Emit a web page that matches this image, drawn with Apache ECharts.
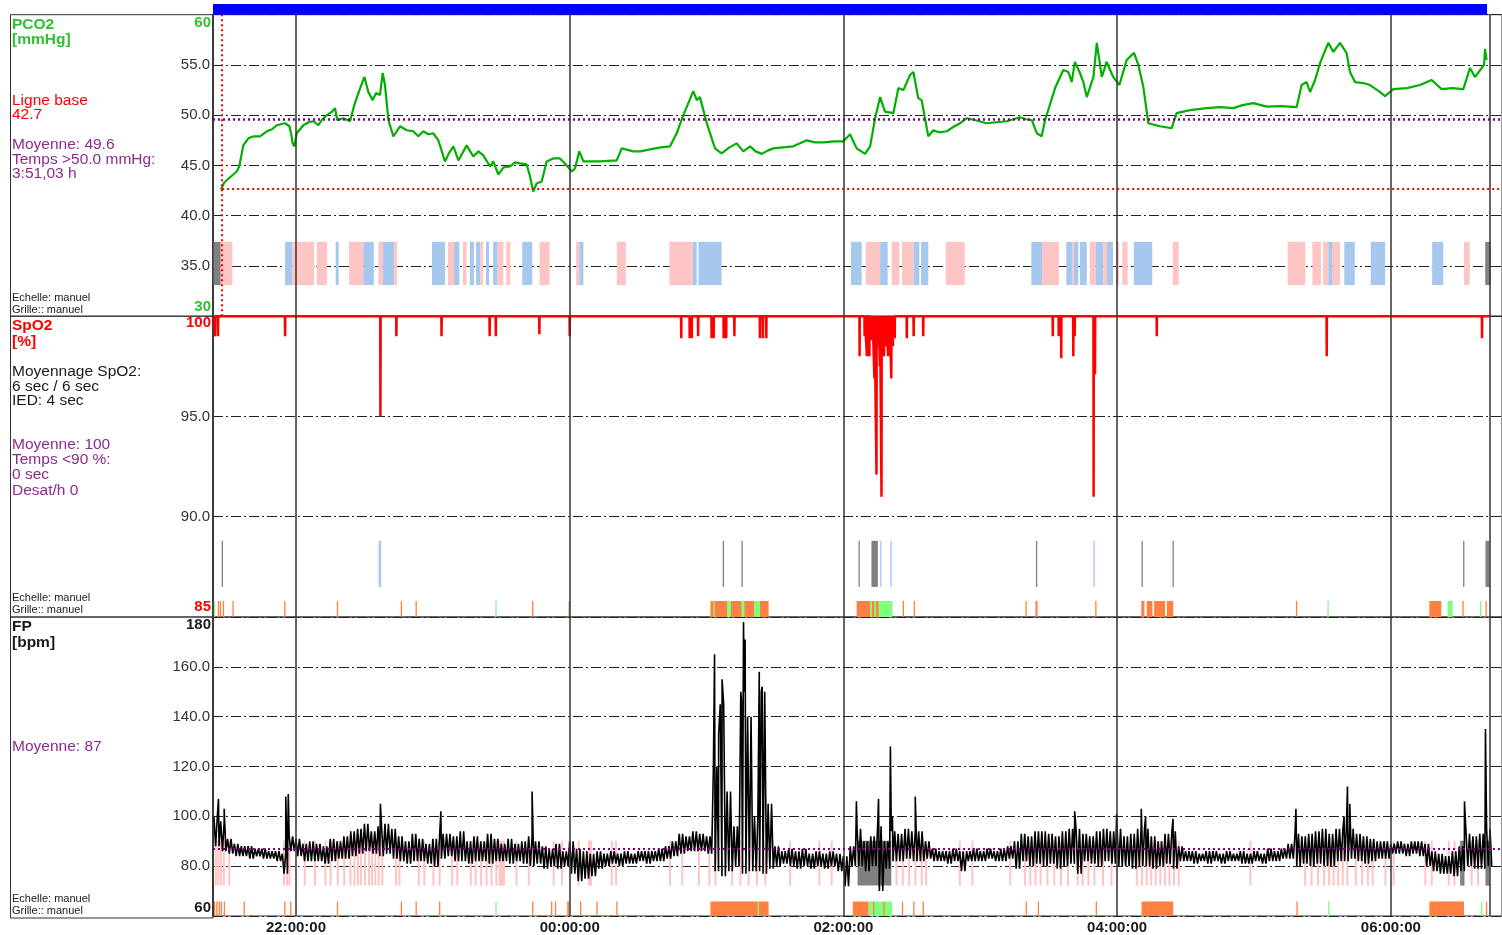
<!DOCTYPE html>
<html>
<head>
<meta charset="utf-8">
<title>PCO2 / SpO2 / FP</title>
<script src="https://cdn.jsdelivr.net/npm/echarts@6/dist/echarts.min.js"></script>
<style>
  html, body { margin: 0; padding: 0; background: #fff; }
  #chart { width: 1502px; height: 935px; }
</style>
</head>
<body>
<div id="chart"></div>
<script>
// all times are minutes after 21:00
var timeMin = 23.6, timeMax = 588.75;
var hourTicks = [60, 180, 300, 420, 540];
var recordStart = 23.6, recordEnd = 582.2, endMarker = 583.5;

// PCO2 [mmHg]
var pco2Baseline = 42.7, baselineTime = 27.6, pco2Mean = 49.6;
var pco2Trace = [
  [27.1,42.6],[28.5,43.3],[30.5,43.7],[32.5,44.1],[34.0,44.4],[35.1,44.9],[36.9,47.0],[39.1,47.7],[41.5,47.9],[44.2,47.9],
  [47.2,48.4],[49.5,48.6],[51.5,49.0],[55.2,49.2],[57.1,48.9],[58.0,48.0],[58.5,47.2],[59.3,46.9],[60.3,48.2],[63.2,49.0],
  [65.5,49.3],[67.6,49.4],[69.8,49.0],[71.5,49.6],[73.5,50.0],[75.5,50.3],[77.1,50.7],[78.1,49.5],[80.7,49.7],[83.7,49.4],
  [85.4,50.9],[88.1,52.7],[90.0,53.8],[91.7,52.3],[93.6,51.5],[95.1,52.2],[96.8,52.0],[98.0,54.2],[99.0,53.0],[100.5,49.5],
  [102.7,47.9],[105.6,48.9],[108.5,48.5],[111.4,48.4],[113.6,47.9],[115.8,48.4],[118.0,48.1],[120.2,48.2],[122.4,47.5],[125.3,45.4],
  [127.0,46.2],[129.0,46.9],[131.2,45.5],[134.8,47.0],[137.7,45.9],[140.0,46.4],[142.1,46.0],[145.1,44.9],[146.5,45.4],[148.7,44.1],
  [151.0,44.8],[153.8,44.9],[156.0,45.3],[158.2,45.2],[161.1,45.1],[162.5,44.0],[164.0,42.4],[165.5,43.2],[167.7,43.4],[169.9,45.4],
  [172.8,45.7],[175.7,45.7],[177.9,45.2],[180.9,44.4],[182.3,44.7],[184.2,46.4],[186.0,45.4],[193.3,45.4],[200.6,45.5],[202.8,46.7],
  [207.9,46.4],[211.0,46.4],[215.2,46.6],[220.0,46.8],[224.0,46.9],[226.9,48.2],[229.8,50.0],[232.0,51.2],[234.2,52.4],[235.7,51.5],
  [237.1,51.8],[240.1,49.2],[243.7,46.7],[246.6,46.2],[250.0,46.8],[253.2,47.2],[256.1,46.4],[259.1,46.9],[261.5,46.4],[264.2,46.15],
  [267.0,46.5],[269.3,46.7],[273.5,46.8],[278.0,46.9],[281.0,47.2],[283.9,47.5],[287.5,47.3],[291.2,47.3],[296.0,47.4],[300.0,47.4],
  [302.9,48.1],[305.8,46.7],[309.5,46.15],[311.7,46.9],[313.9,49.7],[316.1,51.8],[318.2,50.35],[321.9,50.2],[324.1,52.7],[326.3,52.5],
  [329.2,54.0],[330.7,54.3],[332.8,51.7],[334.3,51.5],[337.2,47.9],[339.4,48.5],[342.0,48.3],[345.3,48.4],[348.0,48.8],[351.1,49.2],
  [354.1,49.7],[358.0,49.5],[362.8,49.2],[367.0,49.3],[371.6,49.4],[374.5,49.6],[377.4,49.8],[380.0,49.6],[382.6,49.5],[384.8,48.2],
  [386.9,47.9],[388.4,49.5],[392.8,52.7],[396.4,54.5],[398.6,54.3],[400.1,53.3],[401.5,55.3],[403.7,54.2],[405.2,53.3],[406.7,51.8],
  [409.6,53.8],[411.1,57.2],[413.3,53.8],[415.4,55.3],[418.3,53.8],[421.0,53.0],[424.2,55.5],[427.4,56.2],[429.3,55.0],[431.5,52.8],
  [433.7,49.2],[438.8,48.9],[443.9,48.7],[446.1,50.2],[452.0,50.5],[459.3,50.7],[465.0,50.8],[470.9,50.7],[475.0,51.0],[479.7,51.2],
  [485.6,50.85],[492.0,50.9],[498.7,50.8],[500.9,53.0],[503.1,53.3],[504.6,52.3],[506.8,53.5],[509.0,55.2],[512.6,57.2],[514.8,56.3],
  [517.7,57.2],[520.6,56.2],[522.1,54.3],[524.3,53.3],[527.9,53.2],[530.9,53.0],[535.3,52.3],[537.5,51.9],[541.1,52.6],[547.0,52.7],
  [552.8,53.0],[557.9,53.5],[562.3,52.6],[567.0,52.7],[571.8,52.6],[574.7,54.7],[576.9,53.8],[580.9,55.0],[581.3,56.6],[582.0,55.5]
];
var pco2Band = [33.1, 37.4];
var pco2Blocks = [
  [23.6,27.0,'g'],[27.0,32.1,'p'],[55.2,58.4,'b'],[58.4,67.9,'p'],[69.1,73.6,'p'],[77.4,78.7,'b'],[83.2,89.5,'p'],[89.5,94.1,'b'],
  [96.1,98.0,'p'],[98.0,103.1,'b'],[103.1,104.3,'p'],[119.6,125.3,'b'],[126.6,129.3,'p'],[129.3,131.6,'b'],[133.2,134.8,'p'],
  [136.2,138.0,'b'],[138.9,140.8,'b'],[140.8,142.0,'p'],[143.3,144.6,'b'],[146.4,148.4,'b'],[148.4,150.9,'p'],[152.2,154.0,'p'],
  [159.2,163.6,'b'],[166.8,171.2,'p'],[182.8,184.2,'p'],[184.2,186.0,'b'],[200.7,204.6,'p'],[223.7,233.9,'p'],[233.9,235.7,'b'],
  [236.4,246.6,'b'],[303.3,308.0,'b'],[309.8,316.1,'p'],[316.1,319.4,'b'],[321.2,324.5,'p'],[325.7,330.8,'p'],[330.8,333.3,'b'],
  [334.0,337.2,'b'],[344.9,353.2,'p'],[382.4,387.1,'b'],[387.1,394.5,'p'],[397.7,400.2,'b'],[400.2,401.0,'p'],[401.0,403.0,'b'],
  [403.7,406.7,'b'],[408.0,410.6,'p'],[410.6,413.9,'b'],[413.9,415.6,'p'],[415.6,418.2,'b'],[419.5,420.8,'p'],[422.3,424.6,'p'],
  [427.3,435.4,'b'],[444.4,447.0,'p'],[494.8,502.5,'p'],[505.6,509.3,'p'],[510.3,512.6,'p'],[512.6,514.5,'b'],[514.5,517.7,'p'],
  [519.6,524.2,'b'],[531.2,537.5,'b'],[558.1,563.0,'b'],[572.1,574.6,'p'],[581.4,583.8,'g']
];

// SpO2 [%]
var spo2Level = 100;
var spo2Dips = [
  [24.5,99.0],[25.8,99.0],[55.2,99.0],[97.0,95.0],[104.0,99.0],[123.8,99.0],[144.9,99.0],[147.6,99.0],[166.7,99.1],[180.0,99.0],
  [228.9,98.9],[232.6,98.9],[233.5,98.9],[236.3,99.0],[242.2,98.9],[243.1,98.9],[247.5,98.9],[248.6,98.9],[252.2,99.0],
  [263.4,98.9],[264.7,98.9],[266.2,98.9],[307.1,98.0],[309.3,99.0],[310.3,98.0],[311.4,98.0],[312.0,98.8],[312.7,99.0],
  [313.6,96.9],[314.5,92.1],[315.4,98.5],[316.0,97.5],[316.7,91.0],[317.2,98.2],[317.8,98.0],[318.7,98.5],[319.6,98.0],
  [320.2,98.8],[321.0,96.9],[321.7,98.5],[322.5,98.9],[327.8,98.9],[330.8,99.0],[335.0,99.0],[391.8,99.0],[394.4,99.0],
  [395.5,97.9],[400.8,98.0],[401.4,99.0],[409.7,91.0],[410.3,97.1],[437.4,99.0],[511.9,98.0],[580.0,98.9]
];
var spo2EventBand = [86.5, 88.8];
var spo2Events = [
  [27.4,27.4,'g'],[96.2,97.3,'b'],[247.1,247.1,'g'],[255.3,255.3,'g'],[306.6,306.6,'g'],[312.3,315.1,'g'],[316.1,316.1,'b'],
  [320.6,320.6,'b'],[384.4,384.4,'g'],[409.6,410.2,'b'],[430.7,430.7,'g'],[444.3,444.3,'g'],[571.7,571.7,'g'],[581.5,583.3,'g']
];
var spo2FlagBand = [85, 85.8];
var spo2Flags = [
  [23.9,23.9,'v'],[25.7,25.7,'o'],[26.6,26.6,'o'],[27.9,27.9,'o'],[32.1,32.1,'o'],[54.8,54.8,'o'],[77.9,77.9,'o'],[105.9,105.9,'o'],
  [112.4,112.4,'o'],[147.4,147.4,'v'],[163.5,163.5,'o'],[179.5,179.5,'o'],[241.7,267.2,'o'],[243.0,243.4,'v'],[249.0,250.7,'v'],
  [255.3,256.6,'v'],[260.8,263.4,'v'],[305.8,321.4,'o'],[311.7,312.5,'v'],[313.5,314.3,'v'],[315.4,321.4,'v'],[326.0,326.0,'o'],
  [330.8,330.8,'o'],[379.8,379.8,'o'],[384.2,385.1,'o'],[410.4,410.4,'o'],[430.6,432.0,'o'],[433.0,435.5,'o'],[436.2,441.0,'o'],
  [441.8,444.6,'o'],[498.4,498.4,'o'],[512.2,512.2,'v'],[556.9,562.1,'o'],[564.9,567.1,'v'],[571.4,571.4,'o'],[579.1,579.1,'v'],
  [581.5,581.5,'o']
];

// FP [bpm], high / low of each 3 minute bin starting at 24
var fpMean = 87;
var fpBinStart = 24, fpBinStep = 3;
var fpHi = [
  100,98,91,89,88,88,87,87,86,86,   85,92,91,89,90,89,88,91,90,92,
  94,95,97,94,96,97,95,92,90,93,     91,89,91,93,93,92,94,90,92,90,
  93,91,89,91,89,90,92,90,88,87,     89,86,90,87,86,85,86,85,86,85,
  86,85,86,86,86,87,88,90,93,92,     94,93,92,120,145,110,96,150,140,100,
  150,105,88,86,87,86,87,85,86,85,   86,85,84,88,95,90,92,96,90,94,
  93,95,94,94,90,87,86,86,87,86,     86,87,86,87,86,87,88,90,93,92,
  94,94,93,92,94,95,95,93,92,94,     95,94,95,92,93,95,95,92,90,93,
  94,88,86,86,85,86,86,85,86,85,     86,85,86,85,87,86,87,89,93,92,
  93,94,95,93,95,95,95,93,92,91,     90,90,89,90,89,90,90,89,86,85,
  84,86,88,93,92,93,95
];
var fpLo = [
  88,86,85,84,84,83,84,83,83,82,     77,86,84,82,82,82,81,82,83,83,
  84,85,86,85,84,85,83,82,81,82,     82,81,80,83,84,82,82,81,82,82,
  81,82,82,81,82,81,80,81,79,80,     79,80,77,74,75,76,79,80,81,80,
  81,81,82,81,82,82,83,84,85,86,     86,86,85,78,76,78,80,77,78,78,
  77,79,80,81,80,79,80,79,80,79,     80,78,72,80,80,78,80,70,79,82,
  82,83,82,82,83,82,82,81,82,78,     82,82,82,83,82,82,83,79,82,80,
  81,80,81,79,80,81,77,82,81,80,     82,81,80,80,79,80,80,79,80,81,
  79,82,82,81,82,81,82,81,82,82,     81,81,82,81,82,82,83,83,80,81,
  80,81,80,80,82,82,83,82,81,82,     83,83,85,85,84,85,84,80,78,77,
  77,76,78,80,79,79,80
];
var fpSpikes = [
  [26,107],[28.5,103],[55.5,108],[56.6,109],[97,105],[123.5,102],[163.5,110],[243.5,165],[245.3,133],[246.8,155],
  [255.3,147],[256.2,178],[256.9,171],[263.1,158],[264.4,152],[305.7,106],[315.4,107],[320.6,128],[321.5,100],[331.5,108],
  [401.4,102],[419.8,101],[430.6,103],[432.5,100],[444.5,99],[498.4,103],[519.5,100],[521,112],[522,105],[572.3,106],
  [581.5,135]
];
var fpMarkBand = [72.2, 90.2];
var fpMarks = [
  [24.4,24.4,'p'],[25.5,25.5,'p'],[26.6,26.6,'p'],[27.9,27.9,'p'],[30.3,30.3,'p'],[54.3,54.3,'p'],[55.6,55.6,'p'],[56.7,56.7,'p'],
  [63.4,63.4,'p'],[67.9,67.9,'p'],[72.5,72.5,'p'],[74.7,74.7,'p'],[77.9,77.9,'p'],[80.7,80.7,'p'],[83.4,83.4,'p'],[85.2,85.2,'p'],
  [86.7,86.7,'p'],[88.0,88.0,'p'],[89.8,89.8,'p'],[91.6,91.6,'p'],[92.9,92.9,'p'],[94.3,94.3,'p'],[95.8,95.8,'p'],[97.4,97.4,'p'],
  [103.4,103.4,'p'],[104.9,104.9,'p'],[113.4,113.4,'p'],[115.8,115.8,'p'],[119.8,119.8,'p'],[122.5,122.5,'p'],[128.0,128.0,'p'],
  [130.3,130.3,'p'],[136.2,136.2,'p'],[138.3,138.3,'p'],[140.7,140.7,'p'],[143.1,143.1,'p'],[145.3,145.3,'p'],[147.4,147.4,'p'],
  [148.9,151.6,'p'],[156.2,156.2,'p'],[161.6,161.6,'p'],[172.5,172.5,'p'],[176.2,176.2,'p'],[183.5,183.5,'p'],[188.0,189.8,'p'],
  [198.0,198.0,'p'],[199.9,199.9,'p'],[223.5,223.5,'p'],[228.9,228.9,'p'],[236.2,236.2,'p'],[240.8,240.8,'p'],[243.5,243.5,'p'],
  [250.8,250.8,'p'],[254.4,254.4,'p'],[258.0,258.0,'p'],[261.7,261.7,'p'],[265.3,265.3,'p'],[276.2,276.2,'p'],[289.0,289.0,'p'],
  [294.4,294.4,'p'],[306.2,321.0,'g'],[322.8,322.8,'p'],[325.6,325.6,'p'],[328.4,328.4,'p'],[331.1,331.1,'p'],[333.9,333.9,'p'],
  [335.8,335.8,'p'],[350.6,350.6,'p'],[356.1,356.1,'p'],[372.7,372.7,'p'],[379.2,379.2,'p'],[381.5,381.5,'p'],[383.8,383.8,'p'],
  [386,386,'p'],[389,389,'p'],[392,392,'p'],[395,395,'p'],[398,398,'p'],[402.3,402.3,'p'],[404.5,404.5,'p'],[407,407,'p'],
  [409.6,409.6,'p'],[413.4,413.4,'p'],[417.1,417.1,'p'],[428.2,428.2,'p'],[430.5,430.5,'p'],[432.5,432.5,'p'],[434.5,434.5,'p'],
  [436.5,436.5,'p'],[438.5,438.5,'p'],[440.5,440.5,'p'],[442.5,442.5,'p'],[444.5,444.5,'p'],[446.6,446.6,'p'],[478,478,'p'],
  [502.0,502.0,'p'],[504.8,504.8,'p'],[507.6,507.6,'p'],[510.3,510.3,'p'],[512.5,512.5,'p'],[514.5,514.5,'p'],[516.5,516.5,'p'],
  [518.5,518.5,'p'],[520.5,520.5,'p'],[524.2,524.2,'p'],[527,527,'p'],[529.5,529.5,'p'],[531.6,531.6,'p'],[537.2,537.2,'p'],
  [540.8,540.8,'p'],[554.7,554.7,'p'],[557.5,557.5,'p'],[565,565,'p'],[567.5,567.5,'p'],[570.4,572.3,'g'],[575,575,'p'],
  [577.8,577.8,'p'],[581.5,583.3,'g']
];
var fpFlagBand = [60, 65.8];
var fpFlags = [
  [24.0,24.0,'o'],[25.0,25.0,'o'],[26.1,26.1,'o'],[27.0,27.0,'o'],[28.3,28.3,'o'],[37.0,37.0,'o'],[54.8,54.8,'o'],[57.4,57.4,'o'],
  [77.9,77.9,'o'],[105.9,105.9,'o'],[112.4,112.4,'o'],[122.7,122.7,'o'],[147.4,147.4,'v'],[163.5,163.5,'o'],[171.8,171.8,'o'],
  [173.5,173.5,'o'],[178.9,179.8,'o'],[184.5,184.5,'o'],[191.7,191.7,'o'],[200.4,200.4,'o'],[241.7,267.2,'o'],[262.4,262.8,'v'],
  [304.1,311.1,'o'],[311.1,321.4,'v'],[313.0,313.0,'o'],[317.5,317.5,'o'],[325.6,325.6,'o'],[330.6,330.6,'o'],[334.7,334.7,'o'],
  [379.9,379.9,'o'],[385.2,385.2,'o'],[410.6,410.6,'o'],[430.7,444.6,'o'],[498.6,498.6,'o'],[512.5,512.5,'v'],[556.9,572.1,'o'],
  [579.6,579.6,'v'],[581.7,581.7,'o']
];

var FONT = "'Liberation Sans', Arial, sans-serif";
var palette = { p: '#ffc4c4', b: '#a6c8ef', g: '#808080', o: '#ff8040', v: '#80ff80', r: '#0000ff' };
var kinds = ['p', 'b', 'g', 'o', 'v', 'r'];
var GREEN = '#2ec22e', RED = '#ff0000', PURPLE = '#8e2a8e', INK = '#1a1a1a';
var TS = 15.5; // side text size

var chart = echarts.init(document.getElementById('chart'));

function clock(v) {
  var m = Math.round(v);
  var h = (21 + Math.floor(m / 60)) % 24, mm = m % 60;
  return (h < 10 ? '0' : '') + h + ':' + (mm < 10 ? '0' : '') + mm + ':00';
}

// thin marks keep a minimum pixel width
function bandRenderer(minW) {
  return function (params, api) {
    var a = api.coord([api.value(0), api.value(3)]);
    var b = api.coord([api.value(1), api.value(2)]);
    return {
      type: 'rect',
      shape: { x: a[0], y: a[1], width: Math.max(b[0] - a[0], minW), height: b[1] - a[1] },
      style: { fill: palette[kinds[api.value(4)]] }
    };
  };
}

function bandSeries(idx, list, band, z, minW) {
  return {
    type: 'custom', xAxisIndex: idx, yAxisIndex: idx, silent: true, z: z || 2,
    renderItem: bandRenderer(minW || 1.3),
    encode: { x: [0, 1], y: [2, 3] },
    data: list.map(function (d) { return [d[0], d[1], band[0], band[1], kinds.indexOf(d[2])]; })
  };
}

// vertical hour lines + end of record
function vLines(extra) {
  var data = hourTicks.concat([endMarker]).map(function (v) { return { xAxis: v }; });
  return {
    silent: true, symbol: ['none', 'none'], label: { show: false }, animation: false,
    lineStyle: { color: '#333', width: 1.5, type: 'solid' },
    data: data.concat(extra || [])
  };
}

function xAxisCfg(idx, labels) {
  return {
    type: 'value', gridIndex: idx, min: timeMin, max: timeMax, show: labels,
    axisLine: { show: false }, axisTick: { show: false }, splitLine: { show: false },
    axisLabel: {
      show: labels, customValues: hourTicks, formatter: clock, margin: 4,
      color: INK, fontSize: 15, fontWeight: 'bold', fontFamily: FONT
    }
  };
}

function yAxisCfg(idx, min, max, step) {
  return {
    type: 'value', gridIndex: idx, min: min, max: max, interval: step,
    axisLine: { show: true, lineStyle: { color: '#444', width: 2 } },
    axisTick: { show: false },
    axisLabel: {
      showMinLabel: false, showMaxLabel: false, margin: 3,
      formatter: function (v) { return v.toFixed(1); },
      color: '#333', fontSize: 15, fontFamily: FONT
    },
    splitLine: { show: true, lineStyle: { color: '#222', width: 1.2, type: [10, 3, 2, 3] } }
  };
}

function txt(s, x, y, color, size, weight, align) {
  return {
    type: 'text', x: x, y: y, silent: true, z: 10,
    style: {
      text: s, fill: color, font: (weight || 'normal') + ' ' + size + 'px ' + FONT,
      textAlign: align || 'left', textVerticalAlign: 'middle'
    }
  };
}

function frame(y, h) {
  return { type: 'rect', silent: true, z: 5, shape: { x: 10.5, y: y, width: 202.5, height: h },
           style: { fill: null, stroke: '#333', lineWidth: 1 } };
}

// SpO2 line: flat at 100 with narrow dips
var spo2Data = [[recordStart, spo2Level]];
spo2Dips.forEach(function (d) {
  spo2Data.push([d[0] - 0.08, spo2Level], d, [d[0] + 0.08, spo2Level]);
});
spo2Data.push([endMarker - 0.2, spo2Level]);

// FP line: runs twice between each bin's high and low, plus spikes
var fpData = [];
var q = fpBinStep / 4;
fpHi.forEach(function (hi, i) {
  var t = fpBinStart + i * fpBinStep;
  fpData.push([t, hi], [t + q, fpLo[i]], [t + 2 * q, hi], [t + 3 * q, fpLo[i]]);
});
fpData = fpData.concat(fpSpikes).sort(function (a, b) { return a[0] - b[0]; });

var dotted = [2, 3];

var option = {
  animation: false,
  backgroundColor: '#fff',
  textStyle: { fontFamily: FONT },
  grid: [
    { left: 213, right: 0, top: 4, height: 10.7, show: false },
    { left: 213, right: 0, top: 14.7, height: 301.5, show: true, borderColor: '#333', borderWidth: 1 },
    { left: 213, right: 0, top: 316.2, height: 300.8, show: true, borderColor: '#333', borderWidth: 1 },
    { left: 213, right: 0, top: 617, height: 301, show: true, borderColor: '#333', borderWidth: 1 }
  ],
  xAxis: [xAxisCfg(0, false), xAxisCfg(1, false), xAxisCfg(2, false), xAxisCfg(3, true)],
  yAxis: [
    { type: 'value', gridIndex: 0, min: 0, max: 1, show: false },
    yAxisCfg(1, 30, 60, 5),
    yAxisCfg(2, 85, 100, 5),
    yAxisCfg(3, 60, 180, 20)
  ],
  series: [
    bandSeries(0, [[recordStart, recordEnd, 'r']], [0, 1]),

    bandSeries(1, pco2Blocks, pco2Band),
    {
      name: 'PCO2', type: 'line', xAxisIndex: 1, yAxisIndex: 1, data: pco2Trace,
      showSymbol: false, z: 4, lineStyle: { color: '#00b000', width: 2.2 },
      markLine: vLines([
        { xAxis: baselineTime, lineStyle: { color: RED, width: 2, type: dotted } },
        [{ coord: [baselineTime, pco2Baseline], lineStyle: { color: RED, width: 2, type: dotted } },
         { coord: [timeMax, pco2Baseline] }],
        { yAxis: pco2Mean, lineStyle: { color: '#800080', width: 2.5, type: dotted } }
      ])
    },

    bandSeries(2, spo2Events, spo2EventBand),
    bandSeries(2, spo2Flags, spo2FlagBand),
    {
      name: 'SpO2', type: 'line', xAxisIndex: 2, yAxisIndex: 2, data: spo2Data,
      showSymbol: false, clip: false, z: 4, lineStyle: { color: RED, width: 2.5 },
      markLine: vLines()
    },

    bandSeries(3, fpMarks, fpMarkBand, 1, 2),
    bandSeries(3, fpFlags, fpFlagBand),
    {
      name: 'FP', type: 'line', xAxisIndex: 3, yAxisIndex: 3, data: fpData,
      showSymbol: false, z: 4, lineStyle: { color: '#000', width: 1.6 },
      markLine: vLines([{ yAxis: fpMean, lineStyle: { color: '#800080', width: 2, type: dotted } }])
    }
  ],
  graphic: [
    frame(14.7, 301.5), frame(316.2, 300.8), frame(617, 301),

    txt('PCO2', 12, 25, GREEN, TS, 'bold'),
    txt('[mmHg]', 12, 40, GREEN, TS, 'bold'),
    txt('Ligne base', 12, 101, RED, TS),
    txt(String(pco2Baseline), 12, 115, RED, TS),
    txt('Moyenne: ' + pco2Mean, 12, 145, PURPLE, TS),
    txt('Temps >50.0 mmHg:', 12, 160, PURPLE, TS),
    txt('3:51,03 h', 12, 174, PURPLE, TS),
    txt('Echelle: manuel', 12, 298, INK, 11),
    txt('Grille:: manuel', 12, 309.5, INK, 11),
    txt('60', 211, 23, GREEN, 15, 'bold', 'right'),
    txt('30', 211, 306.7, GREEN, 15, 'bold', 'right'),

    txt('SpO2', 12, 325.7, RED, TS, 'bold'),
    txt('[%]', 12, 342, RED, TS, 'bold'),
    txt('Moyennage SpO2:', 12, 371.5, INK, TS),
    txt('6 sec / 6 sec', 12, 386.5, INK, TS),
    txt('IED: 4 sec', 12, 401, INK, TS),
    txt('Moyenne: 100', 12, 445, PURPLE, TS),
    txt('Temps <90 %:', 12, 460, PURPLE, TS),
    txt('0 sec', 12, 475, PURPLE, TS),
    txt('Desat/h 0', 12, 491, PURPLE, TS),
    txt('Echelle: manuel', 12, 598, INK, 11),
    txt('Grille:: manuel', 12, 610, INK, 11),
    txt('100', 211, 323, RED, 15, 'bold', 'right'),
    txt('85', 211, 606.7, RED, 15, 'bold', 'right'),

    txt('FP', 12, 627, INK, TS, 'bold'),
    txt('[bpm]', 12, 643, INK, TS, 'bold'),
    txt('Moyenne: ' + fpMean, 12, 747, PURPLE, TS),
    txt('Echelle: manuel', 12, 899, INK, 11),
    txt('Grille:: manuel', 12, 911, INK, 11),
    txt('180', 211, 625, INK, 15, 'bold', 'right'),
    txt('60', 211, 908, INK, 15, 'bold', 'right')
  ]
};

chart.setOption(option);
</script>
</body>
</html>
